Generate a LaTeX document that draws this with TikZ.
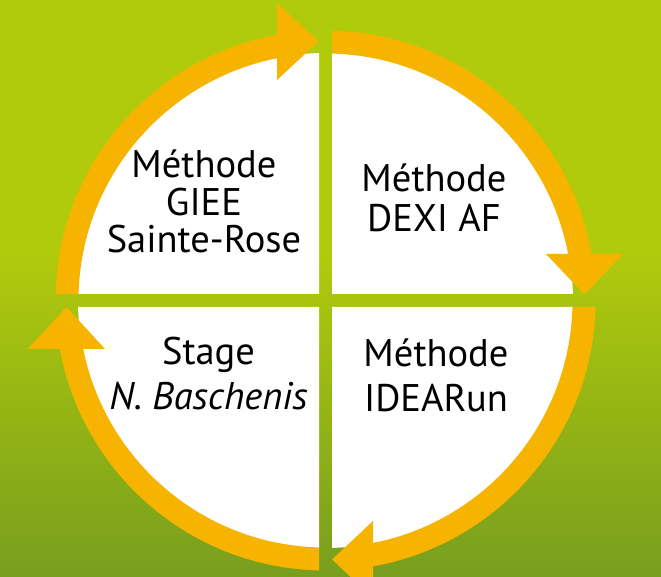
\documentclass[tikz,border=0pt]{standalone}
\usepackage{fontspec}
\setmainfont{PT Sans}
\definecolor{greentop}{RGB}{176,202,12}
\definecolor{greenbot}{RGB}{120,158,30}
\definecolor{ringorange}{RGB}{246,180,0}
\tikzset{
  ring/.style={draw=ringorange, line width=23pt},
  arrowhead/.style={fill=ringorange},
  boxtext/.style={font=\fontsize{38.5}{#1}\selectfont, align=center, inner sep=0pt, anchor=base}
}

\begin{document}
\begin{tikzpicture}[x=1pt,y=1pt]
	\useasboundingbox (0,0) rectangle (661,577);
	\clip (0,0) rectangle (661,577);
	% background
	\fill[greentop] (0,322) rectangle (661,577);
	\shade[bottom color=greenbot, top color=greentop] (0,0) rectangle (661,323);
	\coordinate (c) at (325.5,276.5);
	% white quarters
	\begin{scope}
		\clip (0,0) rectangle (319,270) (0,283) rectangle (319,577) (332,0) rectangle (661,270) (332,283) rectangle (661,577);
		\fill[white] (c) circle (247.5);
	\end{scope}
	% ring pieces
	\begin{scope}
		\clip (0,283) rectangle (277,577) (332,323) rectangle (661,577) (373,0) rectangle (661,270) (0,0) rectangle (319,228);
		\draw[ring] (c) circle (258.5);
	\end{scope}
	\fill[arrowhead] (277,574) -- (318.5,535.5) -- (277,497) -- cycle;
	\fill[arrowhead] (546,323) -- (584.5,282.5) -- (623,323) -- cycle;
	\fill[arrowhead] (373,56) -- (332,17.5) -- (373,-21) -- cycle;
	\fill[arrowhead] (28,228) -- (66.5,270) -- (105,228) -- cycle;
	% texts
	\node[boxtext=37.5] (giee) at (204,324) {Méthode\\GIEE\\Sainte-Rose};
	\node[boxtext=40] (dexi) at (434,345) {Méthode\\DEXI AF};
	\node[boxtext=45] (stage) at (208.5,167) {Stage\\\textit{N. Baschenis}};
	\node[boxtext=45] (idea) at (436,165) {Méthode\\IDEARun};
\end{tikzpicture}
\end{document}
